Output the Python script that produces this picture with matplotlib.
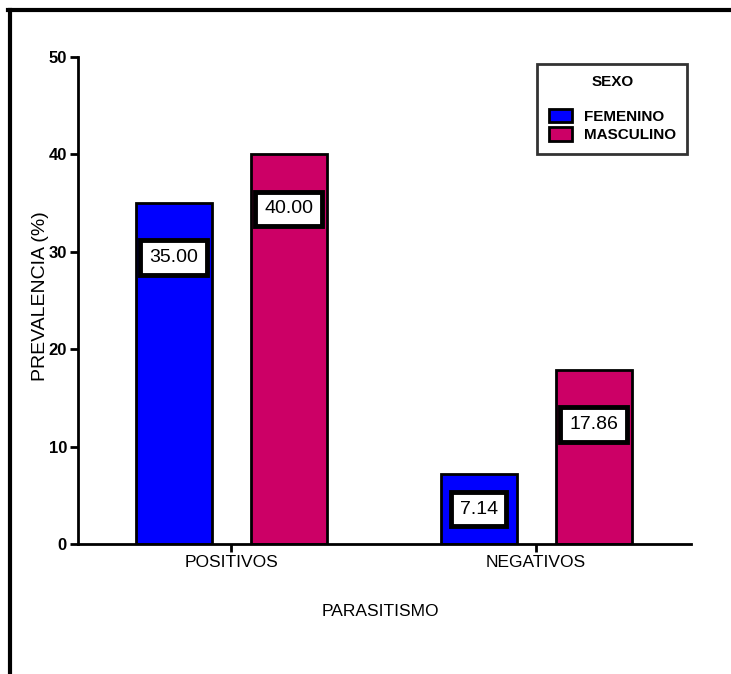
import numpy as np
import matplotlib.pyplot as plt
from matplotlib.lines import Line2D

# datos
categorias = ['POSITIVOS', 'NEGATIVOS']
femenino = [35.00, 7.14]
masculino = [40.00, 17.86]
series = ['FEMENINO', 'MASCULINO']
colores = ['#0000FF', '#CC0066']
y_ticks = [0, 10, 20, 30, 40, 50]

plt.rcParams['font.family'] = ['Liberation Sans', 'DejaVu Sans']

fig = plt.figure(figsize=(7.31, 6.74), dpi=100)
ax = fig.add_axes([0.1067, 0.1929, 0.8386, 0.7225])

x = np.arange(len(categorias))
ancho = 0.249
desp = 0.1885

for vals, off, col, nom in [(femenino, -desp, colores[0], series[0]),
                            (masculino, desp, colores[1], series[1])]:
    barras = ax.bar(x + off, vals, width=ancho, color=col, edgecolor='black',
                    linewidth=2, label=nom)
    for b, v in zip(barras, vals):
        yc = max(v - 5.6, v / 2)
        ax.text(b.get_x() + b.get_width() / 2, yc, f'{v:.2f}', ha='center', va='center',
                fontsize=14,
                bbox=dict(boxstyle='square,pad=0.45', fc='white', ec='black', lw=3.5))

ax.set_xlim(-0.502, 1.508)
ax.set_ylim(0, 50)
ax.set_yticks(y_ticks)
ax.set_yticklabels([str(t) for t in y_ticks], fontsize=12, fontweight='bold')
ax.set_xticks(x)
ax.set_xticklabels(categorias, fontsize=12.5)
ax.tick_params(axis='both', direction='out', length=6, width=2, pad=2)

for s in ['top', 'right']:
    ax.spines[s].set_visible(False)
for s in ['left', 'bottom']:
    ax.spines[s].set_linewidth(2)

ax.set_ylabel('PREVALENCIA (%)', fontsize=14)
ax.yaxis.set_label_coords(-0.047, 0.51)
fig.text(0.52, 0.092, 'PARASITISMO', ha='center', va='center', fontsize=12.5)

leg = ax.legend(title='SEXO', loc='upper left', bbox_to_anchor=(0.749, 0.986),
                frameon=True, fancybox=False, edgecolor='black', fontsize=11,
                title_fontproperties={'weight': 'bold', 'size': 11},
                handlelength=1.5, handleheight=0.95, borderpad=0.75,
                labelspacing=0.25, handletextpad=0.8, borderaxespad=0)
leg.get_frame().set_linewidth(2)
for t in leg.get_texts():
    t.set_fontweight('bold')
leg._legend_box.sep = 14

# marco exterior
fig.add_artist(Line2D([0.011, 1.0], [0.985, 0.985], transform=fig.transFigure,
                      color='black', lw=3))
fig.add_artist(Line2D([0.0137, 0.0137], [0.0, 0.985], transform=fig.transFigure,
                      color='black', lw=3))

plt.savefig('out.png', dpi=100)
